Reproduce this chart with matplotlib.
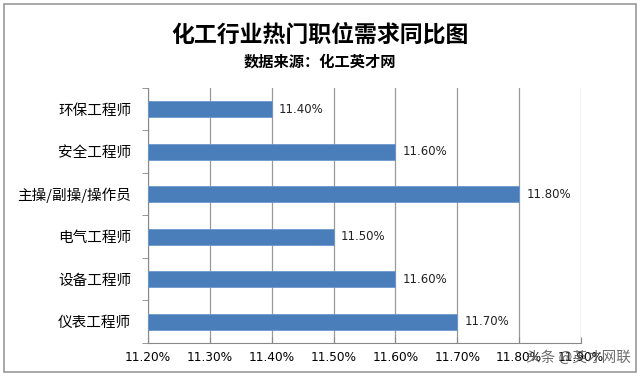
import matplotlib
matplotlib.use("Agg")
import matplotlib.pyplot as plt
from matplotlib.patches import Rectangle
import numpy as np

plt.rcParams['font.family'] = ['Noto Sans CJK SC', 'DejaVu Sans']

categories = ["环保工程师", "安全工程师", "主操/副操/操作员", "电气工程师", "设备工程师", "仪表工程师"]
values = [11.40, 11.60, 11.80, 11.50, 11.60, 11.70]
xticks = [11.2, 11.3, 11.4, 11.5, 11.6, 11.7, 11.8, 11.9]

fig = plt.figure(figsize=(6.4, 3.76), dpi=100)
ax = fig.add_axes([0.231, 0.088, 0.677, 0.678])

y = np.arange(len(categories))
ax.barh(y, np.array(values) - 11.2, left=11.2, height=0.38,
        color='#4A7EBB', edgecolor='#6C97CC', linewidth=0.6, zorder=3)

for yi, v in zip(y, values):
    ax.text(v + 0.012, yi, f"{v:.2f}%", va='center', ha='left', fontsize=8.5,
            color='#222222', family=['DejaVu Sans'])

ax.set_xlim(11.2, 11.9)
ax.set_ylim(len(categories) - 0.5, -0.5)
ax.set_xticks(xticks)
ax.set_xticklabels([f"{t:.2f}%" for t in xticks], fontsize=8.7, family=['DejaVu Sans'])
ax.set_yticks(y)
ax.set_yticklabels(categories, fontsize=10.5)
ax.set_yticks(np.arange(len(categories) + 1) - 0.5, minor=True)
ax.tick_params(axis='y', which='major', length=0, pad=12)
ax.tick_params(axis='y', which='minor', length=4, direction='out', color='#888888')
ax.tick_params(axis='x', length=4, direction='in', color='#888888', pad=6)
ax.grid(axis='x', color='#999999', linewidth=0.9, zorder=0)
for s in ['top', 'right']:
    ax.spines[s].set_visible(False)
ax.spines['left'].set_color('#888888')
ax.spines['bottom'].set_color('#888888')

fig.text(0.5, 0.907, "化工行业热门职位需求同比图", ha='center', va='center',
         fontsize=16.5, fontweight='bold')
fig.text(0.5, 0.835, "数据来源：化工英才网", ha='center', va='center',
         fontsize=11, fontweight='bold')
fig.text(0.985, 0.05, "头条 @英才网联", ha='right', va='center',
         fontsize=10.5, color='#555555', alpha=0.85)

fig.patches.append(Rectangle((0.006, 0.01), 0.988, 0.98, transform=fig.transFigure,
                             fill=False, edgecolor='#999999', linewidth=1.2))

fig.savefig("out.png", dpi=100)
